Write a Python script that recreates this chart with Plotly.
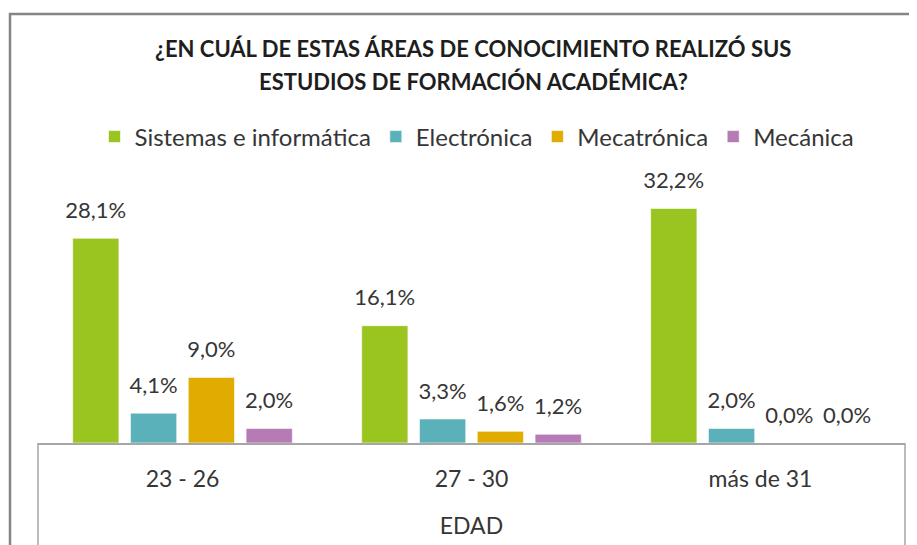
import plotly.graph_objects as go

categories = ["23 - 26", "27 - 30", "más de 31"]
series_names = ["Sistemas e informática", "Electrónica", "Mecatrónica", "Mecánica"]
sistemas = [28.1, 16.1, 32.2]
electronica = [4.1, 3.3, 2.0]
mecatronica = [9.0, 1.6, 0.0]
mecanica = [2.0, 1.2, 0.0]
colors = ["#9AC420", "#5BB1B9", "#E0AC00", "#B67AB4"]

# the page body has an 8px margin, so the figure is made 8px smaller
W, H = 909, 537
L, R, T, B = 30, 12, 180, 102
ph = H - T - B
pw = W - L - R


def px_x(x):
    # page pixel -> paper x
    return (x - 8 - L) / pw


def px_y(y):
    # page pixel -> paper y
    return (H - B - (y - 8)) / ph


font = "Lato, 'Open Sans', sans-serif"
txt = "#363636"

fig = go.Figure()
for name, vals, col in zip(series_names, [sistemas, electronica, mecatronica, mecanica], colors):
    fig.add_trace(go.Bar(
        x=categories, y=vals, name=name,
        marker=dict(color=col, line=dict(color="rgba(255,255,255,0.6)", width=1)),
    ))
# value labels, grouped like the bars
for name, vals in zip(series_names, [sistemas, electronica, mecatronica, mecanica]):
    fig.add_trace(go.Scatter(
        x=categories, y=vals, mode="markers+text", showlegend=False,
        marker=dict(size=22, opacity=0),
        text=[f"{v:.1f}".replace(".", ",") + "%" for v in vals],
        textposition="top center", cliponaxis=False,
        textfont=dict(family=font, size=22, color=txt), hoverinfo="skip",
    ))

fig.update_layout(
    width=W, height=H,
    margin=dict(l=L, r=R, t=T, b=B),
    paper_bgcolor="white", plot_bgcolor="white",
    barmode="group", bargap=0.2, bargroupgap=0.2,
    scattermode="group", scattergap=0.2,
    font=dict(family=font, color=txt),
    showlegend=True,
    legend=dict(orientation="h", x=px_x(477), y=px_y(137), xanchor="center", yanchor="middle",
                font=dict(family=font, size=24, color=txt), itemwidth=30, traceorder="normal"),
)
fig.update_xaxes(showline=True, linecolor="#A6A6A6", linewidth=1.5, showgrid=False, automargin=False,
                 tickfont=dict(family=font, size=23, color=txt), ticks="", ticklabelstandoff=15,
                 title=dict(text="EDAD", font=dict(family=font, size=23, color=txt), standoff=27))
fig.update_yaxes(range=[0, 35], visible=False, showgrid=False)

fig.add_annotation(text="<b>¿EN CUÁL DE ESTAS ÁREAS DE CONOCIMIENTO REALIZÓ SUS</b>", xref="paper", yref="paper",
                   x=px_x(473), y=px_y(48), xanchor="center", yanchor="middle", showarrow=False,
                   font=dict(family=font, size=22, color="#1E1E1E"))
fig.add_annotation(text="<b>ESTUDIOS DE FORMACIÓN ACADÉMICA?</b>", xref="paper", yref="paper",
                   x=px_x(473), y=px_y(82), xanchor="center", yanchor="middle", showarrow=False,
                   font=dict(family=font, size=22, color="#1E1E1E"))

# axis box below the baseline
for xx in (0, 1):
    fig.add_shape(type="line", xref="paper", yref="paper", x0=xx, x1=xx, y0=0, y1=-0.5,
                  line=dict(color="#A6A6A6", width=1.5))
# outer chart border
fig.add_shape(type="rect", xref="paper", yref="paper", x0=px_x(10), x1=px_x(960), y0=px_y(600), y1=px_y(14),
              line=dict(color="#858585", width=2.5))

fig.write_html("out.html")
